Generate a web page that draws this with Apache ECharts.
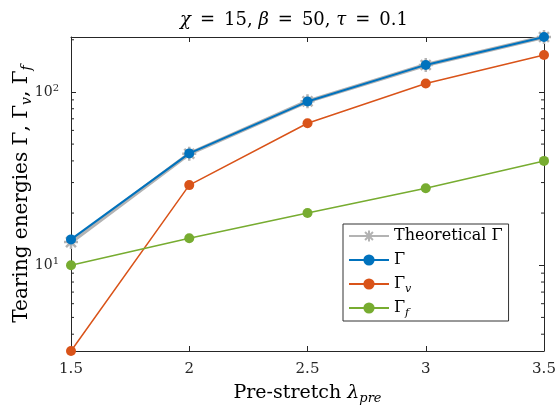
<!DOCTYPE html>
<html>
<head>
<meta charset="utf-8">
<script src="https://cdn.jsdelivr.net/npm/echarts@6/dist/echarts.min.js"></script>
<style>
  html, body { margin: 0; padding: 0; background: #fff; }
  #chart { width: 556px; height: 407px; }
</style>
</head>
<body>
<div id="chart"></div>
<script>
// Pre-stretch values and tearing energies
const stretch = [1.5, 2, 2.5, 3, 3.5];
const gammaTheory = [13.6, 44.0, 88.3, 143.0, 207.5];
const gammaTotal = [14.1, 44.2, 88.0, 143.2, 207.5];
const gammaV = [3.2, 29.0, 66.0, 111.8, 163.5];
const gammaF = [10.0, 14.3, 20.0, 27.8, 40.0];
const xTicks = [1.5, 2, 2.5, 3, 3.5];
const minorTicks = [4, 5, 6, 7, 8, 9, 20, 30, 40, 50, 60, 70, 80, 90, 200];

const yMin = Math.min(...gammaV, ...gammaF, ...gammaTotal);
const yMax = Math.max(...gammaTotal, ...gammaTheory);

const serif = '"DejaVu Serif", "Liberation Serif", serif';
const axisColor = '#262626';
const BLUE = '#0072BD', ORANGE = '#D95319', GREEN = '#77AC30', GRAY = '#B3B3B3';
const asterisk = 'path://M0,-10L0,10M-10,0L10,0M-7.07,-7.07L7.07,7.07M-7.07,7.07L7.07,-7.07';
const sp = '\u2002';

const pairs = ys => stretch.map((x, i) => [x, ys[i]]);

const legendText = {
  theory: 'Theoretical Γ',
  total: 'Γ',
  viscous: 'Γ{sub|v}',
  fracture: 'Γ{sub|f}'
};

const chart = echarts.init(document.getElementById('chart'), null, { renderer: 'canvas' });

chart.setOption({
  animation: false,
  backgroundColor: '#fff',
  title: {
    text: '{i|χ}' + sp + '=' + sp + '15, {i|β}' + sp + '=' + sp + '50, {i|τ}' + sp + '=' + sp + '0.1',
    left: 289,
    textAlign: 'center',
    top: 6,
    textStyle: {
      fontFamily: serif, fontSize: 18, fontWeight: 'normal', color: '#000',
      rich: { i: { fontFamily: serif, fontSize: 18, fontStyle: 'italic', color: '#000' } }
    }
  },
  grid: { left: 71, right: 12, top: 37, bottom: 56, containLabel: false, outerBoundsMode: 'none' },
  legend: {
    data: ['theory', 'total', 'viscous', 'fracture'],
    orient: 'vertical',
    left: 343, top: 224,
    padding: [1, 6, 2, 5],
    itemWidth: 40, itemHeight: 14, itemGap: 2,
    backgroundColor: '#fff',
    borderColor: '#333', borderWidth: 1, borderRadius: 0,
    formatter: n => legendText[n],
    textStyle: {
      fontFamily: serif, fontSize: 16, color: '#000', lineHeight: 22,
      rich: { sub: { fontFamily: serif, fontSize: 11, fontStyle: 'italic', color: '#000', lineHeight: 12, verticalAlign: 'bottom' } }
    }
  },
  xAxis: [{
    type: 'value', min: 1.5, max: 3.5, interval: 0.5,
    name: 'Pre-stretch {i|λ}{sub|pre}',
    nameLocation: 'middle', nameGap: 30, nameMoveOverlap: false,
    nameTextStyle: {
      fontFamily: serif, fontSize: 19, color: '#000', lineHeight: 24,
      rich: {
        i: { fontFamily: serif, fontSize: 19, fontStyle: 'italic', color: '#000', lineHeight: 24 },
        sub: { fontFamily: serif, fontSize: 13, fontStyle: 'italic', color: '#000', lineHeight: 13, verticalAlign: 'bottom' }
      }
    },
    axisLine: { show: true, onZero: false, lineStyle: { color: axisColor, width: 1 } },
    axisTick: { show: true, inside: true, length: 5, lineStyle: { color: axisColor } },
    axisLabel: {
      fontFamily: serif, fontSize: 15, color: axisColor, margin: 11,
      formatter: v => xTicks.includes(+v.toFixed(2)) ? String(+v.toFixed(2)) : ''
    },
    splitLine: { show: false }
  }, {
    type: 'value', position: 'top', min: 1.5, max: 3.5, interval: 0.5,
    axisLine: { show: true, onZero: false, lineStyle: { color: axisColor, width: 1 } },
    axisTick: { show: true, inside: true, length: 5, lineStyle: { color: axisColor } },
    axisLabel: { show: false },
    splitLine: { show: false }
  }],
  yAxis: [{
    type: 'log', logBase: 10, min: yMin, max: yMax,
    name: 'Tearing energies Γ, Γ{sub|v}, Γ{sub|f}',
    nameLocation: 'middle', nameGap: 37, nameRotate: 90, nameMoveOverlap: false,
    nameTextStyle: {
      fontFamily: serif, fontSize: 20, color: '#000', lineHeight: 25,
      rich: { sub: { fontFamily: serif, fontSize: 14, fontStyle: 'italic', color: '#000', lineHeight: 14, verticalAlign: 'bottom' } }
    },
    axisLine: { show: true, onZero: false, lineStyle: { color: axisColor, width: 1 } },
    axisTick: { show: true, inside: true, length: 5, lineStyle: { color: axisColor } },
    axisLabel: {
      margin: 12,
      formatter: v => {
        const e = Math.round(Math.log10(v));
        if (Math.abs(Math.log10(v) - e) > 1e-6) return '';
        return '{b|10}{s|' + e + '}';
      },
      rich: {
        b: { fontFamily: serif, fontSize: 14, color: axisColor, lineHeight: 18 },
        s: { fontFamily: serif, fontSize: 10, color: axisColor, lineHeight: 10, verticalAlign: 'top' }
      }
    },
    splitLine: { show: false }
  }, {
    type: 'log', logBase: 10, min: yMin, max: yMax, position: 'right',
    axisLine: { show: true, onZero: false, lineStyle: { color: axisColor, width: 1 } },
    axisTick: { show: true, inside: true, length: 5, lineStyle: { color: axisColor } },
    axisLabel: { show: false },
    splitLine: { show: false }
  }],
  series: [
    {
      // minor log ticks on both vertical edges of the box
      type: 'custom',
      silent: true,
      data: minorTicks.map(v => [stretch[0], v]),
      renderItem: (params, api) => {
        const y = api.coord([api.value(0), api.value(1)])[1];
        const cs = params.coordSys;
        const st = { stroke: axisColor, lineWidth: 1 };
        return {
          type: 'group',
          children: [
            { type: 'line', shape: { x1: cs.x, y1: y, x2: cs.x + 3, y2: y }, style: st },
            { type: 'line', shape: { x1: cs.x + cs.width, y1: y, x2: cs.x + cs.width - 3, y2: y }, style: st }
          ]
        };
      },
      z: 1
    },
    {
      name: 'theory', type: 'line', data: pairs(gammaTheory),
      color: GRAY,
      lineStyle: { color: GRAY, width: 4 },
      symbol: asterisk, symbolSize: 14,
      itemStyle: { color: GRAY, borderColor: GRAY, borderWidth: 2.5 },
      z: 2
    },
    {
      name: 'total', type: 'line', data: pairs(gammaTotal),
      color: BLUE,
      lineStyle: { color: BLUE, width: 2 },
      symbol: 'circle', symbolSize: 10,
      itemStyle: { color: BLUE, borderWidth: 0 },
      z: 3
    },
    {
      name: 'viscous', type: 'line', data: pairs(gammaV),
      color: ORANGE,
      lineStyle: { color: ORANGE, width: 1.5 },
      symbol: 'circle', symbolSize: 10,
      itemStyle: { color: ORANGE, borderWidth: 0 },
      z: 3
    },
    {
      name: 'fracture', type: 'line', data: pairs(gammaF),
      color: GREEN,
      lineStyle: { color: GREEN, width: 1.5 },
      symbol: 'circle', symbolSize: 10,
      itemStyle: { color: GREEN, borderWidth: 0 },
      z: 3
    }
  ]
});
</script>
</body>
</html>
